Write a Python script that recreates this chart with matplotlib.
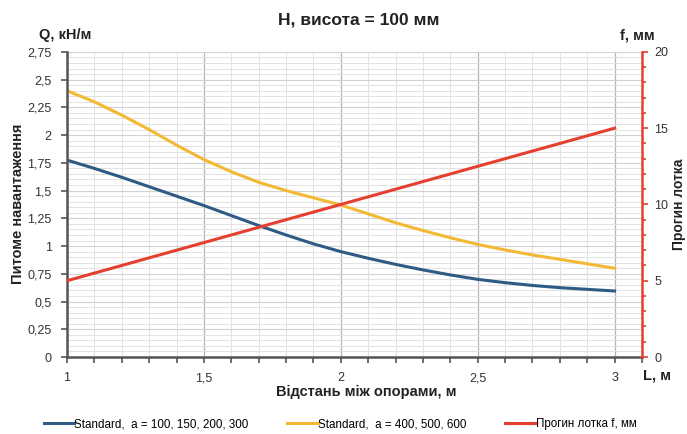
import numpy as np
import matplotlib.pyplot as plt
from matplotlib.ticker import MultipleLocator, FuncFormatter

# distance between supports, m
L = [1.0, 1.1, 1.2, 1.3, 1.4, 1.5, 1.6, 1.7, 1.8, 1.9, 2.0,
     2.1, 2.2, 2.3, 2.4, 2.5, 2.6, 2.7, 2.8, 2.9, 3.0]
# specific load, kN/m
q_std_small = [1.775, 1.70, 1.62, 1.535, 1.45, 1.365, 1.275, 1.185, 1.10, 1.02, 0.95,
               0.89, 0.835, 0.785, 0.74, 0.70, 0.67, 0.645, 0.625, 0.61, 0.595]
q_std_large = [2.40, 2.30, 2.18, 2.05, 1.91, 1.78, 1.67, 1.575, 1.50, 1.435, 1.37,
               1.29, 1.21, 1.14, 1.075, 1.015, 0.965, 0.92, 0.88, 0.84, 0.80]
# deflection, mm
f_defl = [5.0, 5.5, 6.0, 6.5, 7.0, 7.5, 8.0, 8.5, 9.0, 9.5, 10.0,
          10.5, 11.0, 11.5, 12.0, 12.5, 13.0, 13.5, 14.0, 14.5, 15.0]

labels = ['Standard,  a = 100, 150, 200, 300',
          'Standard,  a = 400, 500, 600',
          'Прогин лотка f, мм']

c_blue = '#2e5a84'
c_yellow = '#f3b934'
c_red = '#e5402f'
c_axis = '#555555'
c_text = '#222222'

plt.rcParams['font.family'] = ['Liberation Sans', 'DejaVu Sans']

comma = FuncFormatter(lambda v, p: ('%g' % v).replace('.', ','))

fig = plt.figure(figsize=(6.87, 4.34), dpi=100)
ax = fig.add_axes([0.0975, 0.1774, 0.837, 0.703])
ax2 = ax.twinx()

ax.set_xlim(1, 3.1)
ax.set_ylim(0, 2.75)
ax2.set_ylim(0, 20)

ax.xaxis.set_major_locator(MultipleLocator(0.5))
ax.xaxis.set_minor_locator(MultipleLocator(0.1))
ax.yaxis.set_major_locator(MultipleLocator(0.25))
ax.yaxis.set_minor_locator(MultipleLocator(0.05))
ax.xaxis.set_major_formatter(comma)
ax.yaxis.set_major_formatter(comma)
ax2.yaxis.set_major_locator(MultipleLocator(5))
ax2.yaxis.set_minor_locator(MultipleLocator(1))

ax.grid(which='minor', color='#e2e2e2', lw=0.7)
ax.grid(which='major', axis='y', color='#d2d2d2', lw=0.8)
ax.grid(which='major', axis='x', color='#b5b5b5', lw=0.9)
ax.set_axisbelow(True)

l1, = ax.plot(L, q_std_small, color=c_blue, lw=2.2)
l2, = ax.plot(L, q_std_large, color=c_yellow, lw=2.2)
l3, = ax2.plot(L, f_defl, color=c_red, lw=2.2)

for a in (ax, ax2):
    a.spines['top'].set_visible(False)
ax.spines['right'].set_visible(False)
ax2.spines['left'].set_visible(False)
ax2.spines['bottom'].set_visible(False)
ax.spines['left'].set_color(c_axis)
ax.spines['left'].set_linewidth(1.8)
ax.spines['bottom'].set_color(c_axis)
ax.spines['bottom'].set_linewidth(1.8)
ax2.spines['right'].set_color(c_red)
ax2.spines['right'].set_linewidth(1.8)

ax.tick_params(which='both', colors=c_axis, labelcolor='#333333', labelsize=9, width=1.2)
ax.tick_params(which='major', length=4)
ax.tick_params(which='minor', axis='x', length=4)
ax.tick_params(which='minor', axis='y', length=0)
ax.tick_params(axis='x', pad=7)
ax.tick_params(axis='y', pad=7)
ax2.tick_params(which='both', colors=c_red, labelcolor='#333333', labelsize=9, width=1.2)
ax2.tick_params(which='major', length=4, pad=5)
ax2.tick_params(which='minor', length=3)

fig.text(0.522, 0.954, 'H, висота = 100 мм', ha='center', va='center',
         fontsize=12.5, fontweight='bold', color=c_text)
fig.text(0.095, 0.919, 'Q, кН/м', ha='center', va='center',
         fontsize=10.5, fontweight='bold', color=c_text)
fig.text(0.927, 0.919, 'f, мм', ha='center', va='center',
         fontsize=10.5, fontweight='bold', color=c_text)
fig.text(0.957, 0.134, 'L, м', ha='center', va='center',
         fontsize=10.5, fontweight='bold', color=c_text)
fig.text(0.533, 0.098, 'Відстань між опорами, м', ha='center', va='center',
         fontsize=10.5, fontweight='bold', color=c_text)
fig.text(0.026, 0.53, 'Питоме навантаження', ha='center', va='center',
         rotation=90, fontsize=10.5, fontweight='bold', color=c_text)
fig.text(0.988, 0.53, 'Прогин лотка', ha='center', va='center',
         rotation=90, fontsize=10, fontweight='bold', color=c_text)

fig.legend([l1, l2, l3], labels, loc='center', bbox_to_anchor=(0.495, 0.022),
           ncol=3, frameon=False, handlelength=2.6, handletextpad=0.05,
           columnspacing=3.3, prop={'size': 8.4})

fig.savefig('out.png', dpi=100)
